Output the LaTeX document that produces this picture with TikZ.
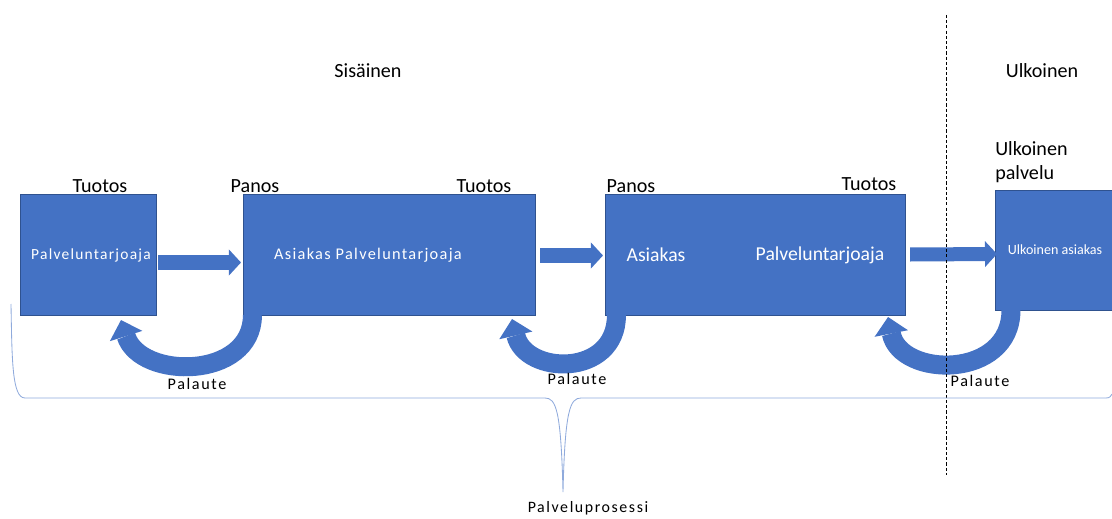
\documentclass[tikz,border=0pt]{standalone}
\usepackage{fontspec}
\setmainfont{Carlito}
\usetikzlibrary{arrows.meta,calc}
\definecolor{boxblue}{HTML}{4472C4}
\definecolor{boxedge}{HTML}{2F528F}
\definecolor{bracecol}{HTML}{8FAADC}
\tikzset{
  blok/.style={draw=boxedge, fill=boxblue, line width=0.5pt, inner sep=0pt, outer sep=0pt},
  blokteksti/.style={text=white, font=\fontsize{14}{16}\selectfont},
  pienteksti/.style={text=white, font=\fontsize{11}{13}\selectfont\addfontfeature{LetterSpace=8}},
  otsikko/.style={text=black, font=\fontsize{14.3}{17}\selectfont},
  palaute/.style={text=black, font=\fontsize{11.5}{13}\selectfont\addfontfeature{LetterSpace=10}},
  suorapil/.style={draw=boxblue, line width=0.35cm, -{Triangle[length=0.3cm, width=0.65cm, line width=0pt]}},
  kaaripil/.style={draw=boxblue, line width=0.475cm, -{Triangle[length=0.42cm, width=0.85cm, line width=0pt]}},
}
\begin{document}
\begin{tikzpicture}[x=0.025cm, y=-0.025cm]
  \useasboundingbox (0,0) rectangle (1112,519);
  % boxes
  \node[blok, minimum width=3.4cm, minimum height=3.025cm] (b1) at (88,254.5) {};
  \node[blok, minimum width=7.3cm, minimum height=3.025cm] (b2) at (389,254.5) {};
  \node[blok, minimum width=7.5cm, minimum height=3.025cm] (b3) at (755,254.5) {};
  \node[blok, minimum width=2.925cm, minimum height=3cm] (b4) at (1053.5,250) {};
  % box texts
  \node[pienteksti] (t1) at (91,255) {Palveluntarjoaja};
  \node[pienteksti, font=\fontsize{11.6}{14}\selectfont\addfontfeature{LetterSpace=8}] (t2) at (368,255) {Asiakas Palveluntarjoaja};
  \node[blokteksti] (t3) at (656,255) {Asiakas};
  \node[blokteksti] (t4) at (820,255) {Palveluntarjoaja};
  \node[text=white, font=\fontsize{10}{12}\selectfont] (t5) at (1055,250) {Ulkoinen asiakas};
  % labels
  \node[otsikko] (s1) at (368,71) {Sisäinen};
  \node[otsikko] (s2) at (1042,71) {Ulkoinen};
  \node[otsikko] (l1) at (100,186) {Tuotos};
  \node[otsikko] (l2) at (255,186) {Panos};
  \node[otsikko] (l3) at (484,186) {Tuotos};
  \node[otsikko] (l4) at (631,186) {Panos};
  \node[otsikko] (l5) at (869,184) {Tuotos};
  \node[otsikko, align=left, anchor=west, inner sep=0pt] (l6) at (995,162) {Ulkoinen\\palvelu};
  % arrows forward
  \draw[suorapil] ($(b1.east)+(2,8)$) -- ($(b2.west)+(-2,8)$);
  \draw[suorapil] ($(b2.east)+(5,1)$) -- ($(b3.west)+(-2,1)$);
  \draw[suorapil] ($(b3.east)+(5,0)$) -- ($(b4.west)+(2,4)$);
  % feedback arrows
  \draw[kaaripil] ($(b2.south west)+(9.5,0)$) .. controls +(0,65) and +(19,60) .. ($(b1.south east)+(-35,5)$);
  \draw[kaaripil] ($(b3.south west)+(11.5,0)$) .. controls +(0,63) and +(13,56) .. ($(b2.south east)+(-23,4)$);
  \draw[kaaripil] ($(b4.south west)+(16,0)$) .. controls +(0,70) and +(12,61) .. ($(b3.south east)+(-17,2)$);
  \node[palaute] (p1) at (197,384) {Palaute};
  \node[palaute] (p2) at (577,379) {Palaute};
  \node[palaute] (p3) at (980,381) {Palaute};
  % divider
  \coordinate (d1) at (946,15);
  \coordinate (d2) at (946,475);
  \draw[black, line width=0.7pt, dash pattern=on 2.2pt off 1.5pt] (d1) -- (d2);
  % brace
  \draw[bracecol, line width=0.6pt] (11,304) .. controls (12,360) and (12,398) .. (25,398) -- (545,398)
    .. controls (556,398) and (561,410) .. (563,492) .. controls (565,410) and (570,398) .. (581,398)
    -- (1106,398) .. controls (1110,398) and (1111,396) .. (1112,394);
  \node[palaute, font=\fontsize{11.3}{14}\selectfont\addfontfeature{LetterSpace=10}] (pp) at (588,508) {Palveluprosessi};
\end{tikzpicture}
\end{document}
